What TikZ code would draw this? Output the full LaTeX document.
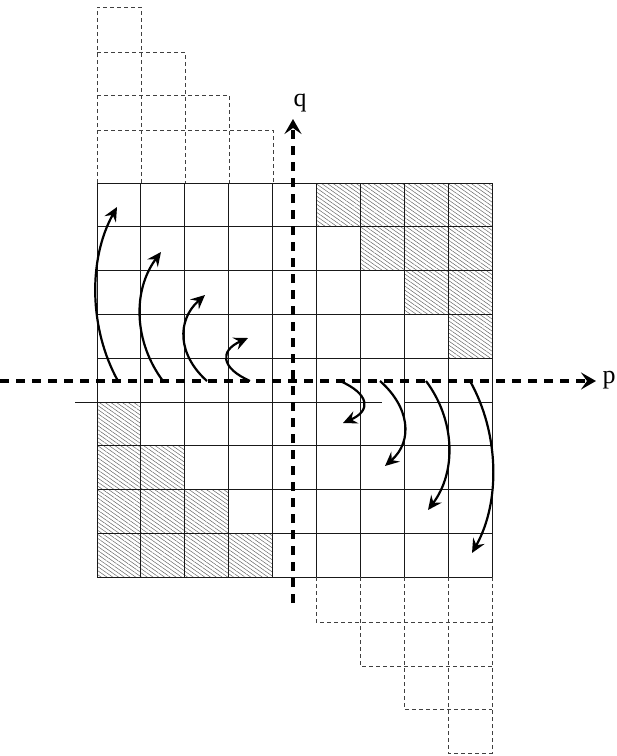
\documentclass[tikz,border=0pt]{standalone}
\usepackage{fontspec}
\setmainfont{Liberation Serif}
\usetikzlibrary{arrows.meta,patterns.meta}
\tikzset{
  gridline/.style={line width=0.9pt, black!90},
  dcell/.style={line width=0.75pt, black!75, dash pattern=on 4pt off 3pt},
  hatchfill/.style={pattern={Lines[angle=-35,distance=3.3pt,line width=0.5pt]}, pattern color=black!60},
  axisline/.style={line width=3.2pt, dash pattern=on 9pt off 7pt, -{Stealth[length=15pt,width=17pt,inset=6pt]}},
  curvearrow/.style={line width=2.2pt, -{Stealth[length=14pt,width=13pt,inset=5pt]}},
  axislabel/.style={inner sep=0pt, font=\fontsize{26}{26}\selectfont}
}
\begin{document}
\begin{tikzpicture}[x=1pt,y=-1pt]
\useasboundingbox (0,0) rectangle (617,756);
% hatched cells
\foreach \c/\r in {5/0,6/0,7/0,8/0,6/1,7/1,8/1,7/2,8/2,8/3,0/5,0/6,1/6,0/7,1/7,2/7,0/8,1/8,2/8,3/8}
  \fill[hatchfill] ({97+43.9*\c},{183+43.8*\r}) rectangle ++(43.9,43.8);
% grid
\foreach \i in {0,...,9}
  \draw[gridline] ({97+43.9*\i},183) -- ({97+43.9*\i},577);
\foreach \j in {0,1,2,3,4,6,7,8,9}
  \draw[gridline] (97,{183+43.8*\j}) -- (492,{183+43.8*\j});
\draw[gridline] (75,402) -- (382,402);
\draw[gridline] (404,402) -- (492,402);
% dashed cells above
\draw[dcell] (97,183) -- (97,7) -- (141,7) -- (141,183);
\draw[dcell] (97,52) -- (185,52) -- (185,183);
\draw[dcell] (97,95) -- (229,95) -- (229,183);
\draw[dcell] (97,130) -- (273,130) -- (273,183);
% dashed cells below
\draw[dcell] (316,577) -- (316,622) -- (492,622);
\draw[dcell] (360,577) -- (360,666) -- (492,666);
\draw[dcell] (404,577) -- (404,709) -- (492,709);
\draw[dcell] (448,577) -- (448,753) -- (492,753) -- (492,577);
% axes
\coordinate (pstart) at (0,381);
\coordinate (pend) at (596,381);
\coordinate (qstart) at (293,603);
\coordinate (qend) at (293,119);
\node[axislabel] (plabel) at (609,380) {p};
\node[axislabel] (qlabel) at (300,103) {q};
\draw[axisline] (pstart) -- (pend);
\draw[axisline] (qstart) -- (qend);
% left curved arrows (upwards)
\foreach \x/\xe/\ye [count=\k] in {118/117/207,163/161/252,207/205/295,250/248/338}{
  \pgfmathsetmacro{\L}{381-\ye}
  \coordinate (ls\k) at (\x,381);
  \coordinate (le\k) at (\xe,\ye);
  \draw[curvearrow] (ls\k) .. controls ({\x-29},{381-0.3*\L}) and ({\xe-29},{\ye+0.3*\L}) .. (le\k);
}
% right curved arrows (downwards)
\foreach \x/\xe/\ye [count=\k] in {340/343/423,380/385/466,426/428/510,470/472/553}{
  \pgfmathsetmacro{\L}{\ye-381}
  \coordinate (rs\k) at (\x,381);
  \coordinate (re\k) at (\xe,\ye);
  \draw[curvearrow] (rs\k) .. controls ({\x+29},{381+0.3*\L}) and ({\xe+29},{\ye-0.3*\L}) .. (re\k);
}
\end{tikzpicture}
\end{document}
